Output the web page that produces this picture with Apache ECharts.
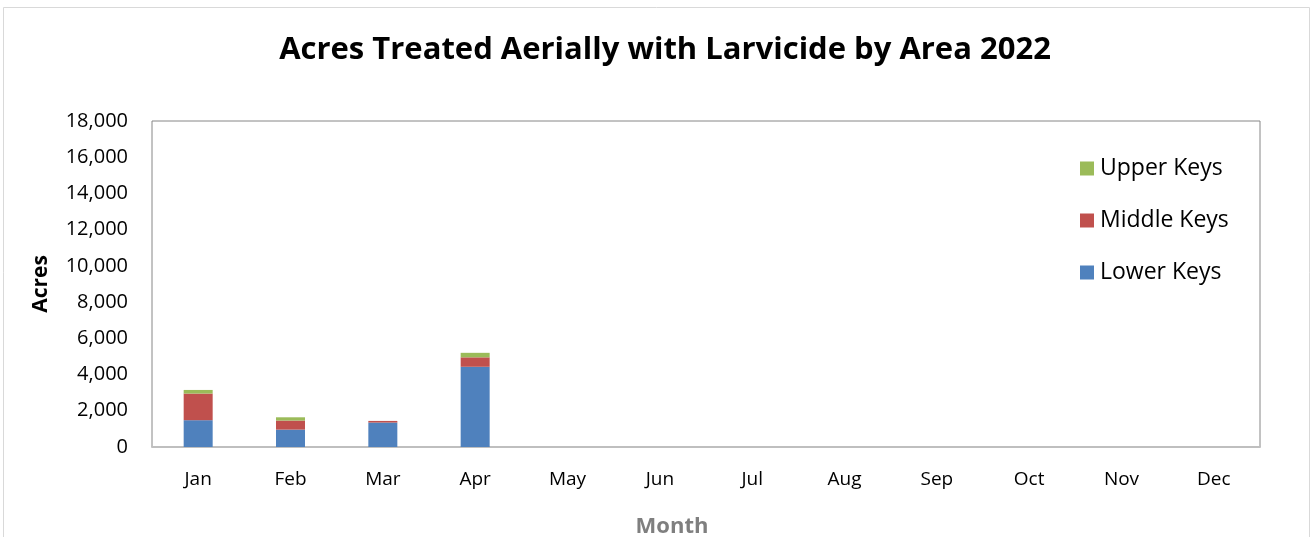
<!DOCTYPE html>
<html><head><meta charset="utf-8">
<script src="https://cdn.jsdelivr.net/npm/echarts@6/dist/echarts.min.js"></script>
<style>html,body{margin:0;padding:0;background:#fff;}#c{width:1312px;height:537px;}</style>
</head><body><div id="c"></div>
<script>
const months = ['Jan','Feb','Mar','Apr','May','Jun','Jul','Aug','Sep','Oct','Nov','Dec'];
const lowerKeys = [1480, 960, 1350, 4430, null, null, null, null, null, null, null, null];
const middleKeys = [1470, 500, 90, 520, null, null, null, null, null, null, null, null];
const upperKeys = [200, 180, 0, 250, null, null, null, null, null, null, null, null];
const yTicks = [0, 2000, 4000, 6000, 8000, 10000, 12000, 14000, 16000, 18000];

const font = '"Open Sans", "Noto Sans", sans-serif';
const chart = echarts.init(document.getElementById('c'));
chart.setOption({
  animation: false,
  backgroundColor: '#fff',
  graphic: [{type:'rect', shape:{x:3.5,y:7.5,width:1306,height:540}, style:{fill:'none', stroke:'#d9d9d9', lineWidth:1}, silent:true}],
  title: {text:'Acres Treated Aerially with Larvicide by Area 2022', left:660, top:30, textAlign:'center',
    textStyle:{fontFamily:font, fontWeight:'bold', fontSize:31, color:'#000'}},
  legend: {orient:'vertical', left:1075, top:152, itemGap:29, itemWidth:14, itemHeight:14,
    icon:'rect', data:['Upper Keys','Middle Keys','Lower Keys'],
    textStyle:{fontFamily:font, fontSize:23, color:'#000', padding:[0,0,0,1]}},
  grid: {left:152, right:52, top:121, bottom:90, show:true, borderColor:'#868686', borderWidth:1,
    containLabel:false, outerBoundsMode:'none'},
  xAxis: {type:'category', data:months, name:'Month', nameLocation:'middle', nameGap:69,
    nameTextStyle:{fontFamily:font, fontWeight:'bold', fontSize:22, color:'#7f7f7f', padding:[0,68,0,0]},
    axisLine:{lineStyle:{color:'#bfbfbf', width:2}}, axisTick:{show:false},
    axisLabel:{fontFamily:font, fontSize:19, color:'#000', margin:23}},
  yAxis: {type:'value', min:yTicks[0], max:yTicks[yTicks.length-1], interval:2000,
    name:'Acres', nameLocation:'middle', nameGap:100, nameRotate:90,
    nameTextStyle:{fontFamily:font, fontWeight:'bold', fontSize:21, color:'#000'},
    splitLine:{show:false}, axisLine:{show:false}, axisTick:{show:false},
    axisLabel:{fontFamily:font, fontSize:20, color:'#000', margin:24,
      formatter: v => v.toLocaleString('en-US')}},
  series: [
    {name:'Lower Keys', type:'bar', stack:'a', data:lowerKeys, barWidth:29, itemStyle:{color:'#4f81bd'}},
    {name:'Middle Keys', type:'bar', stack:'a', data:middleKeys, barWidth:29, itemStyle:{color:'#c0504d'}},
    {name:'Upper Keys', type:'bar', stack:'a', data:upperKeys, barWidth:29, itemStyle:{color:'#9bbb59'}}
  ]
});
</script></body></html>
